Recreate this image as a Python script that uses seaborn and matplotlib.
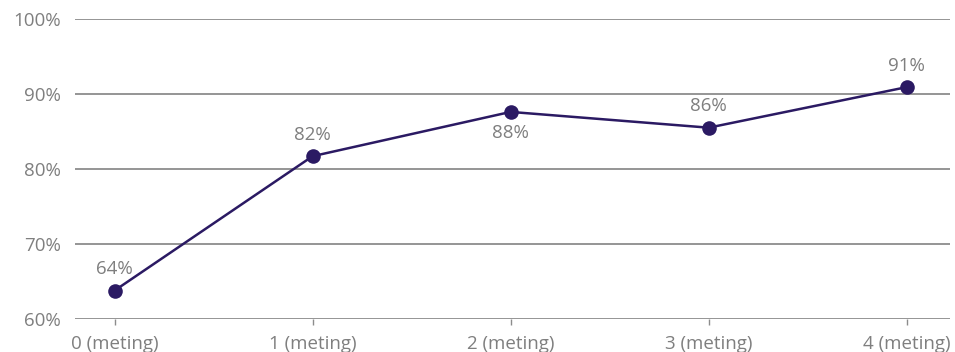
import matplotlib
matplotlib.use("Agg")
import matplotlib.pyplot as plt
import seaborn as sns
import pandas as pd
from matplotlib.ticker import FuncFormatter

# Share of positive scores per measurement round
metingen = ["0 (meting)", "1 (meting)", "2 (meting)", "3 (meting)", "4 (meting)"]
scores = [63.8, 81.7, 87.6, 85.5, 90.9]
label_pos = ["above", "above", "below", "above", "above"]
y_ticks = [60, 70, 80, 90, 100]

df = pd.DataFrame({"meting": metingen, "score": scores})

sns.set_theme(style="white")
plt.rcParams["font.family"] = ["Open Sans", "DejaVu Sans"]

line_color = "#2b1a63"
text_color = "#7f7f7f"
grid_color = "#8c8c8c"
fs = 13.5

fig = plt.figure(figsize=(9.55, 3.52), dpi=100)
ax = fig.add_axes([0.0785, 0.0935, 0.9165, 0.853])

for t in y_ticks:
    ax.axhline(t, color=grid_color, linewidth=1.3, zorder=1)

sns.lineplot(data=df, x="meting", y="score", sort=False, ax=ax,
             color=line_color, linewidth=1.8, marker="o", markersize=10.5,
             markeredgewidth=0, zorder=3)

for i, (v, pos) in enumerate(zip(scores, label_pos)):
    dy = 15.5 if pos == "above" else -15.5
    ax.annotate(f"{v:.0f}%", (i, v), xytext=(0, dy), textcoords="offset points",
                ha="center", va="center", fontsize=fs, color=text_color)

ax.set_ylim(60, 100)
ax.set_xlim(-0.2, 4.22)
ax.set_yticks(y_ticks)
ax.yaxis.set_major_formatter(FuncFormatter(lambda v, _: f"{v:.0f}%"))
ax.set_xlabel("")
ax.set_ylabel("")
for s in ax.spines.values():
    s.set_visible(False)
ax.tick_params(axis="x", length=4, width=1, color=grid_color,
               labelsize=fs, labelcolor=text_color, pad=7.5, bottom=True)
ax.tick_params(axis="y", length=0, labelsize=fs, labelcolor=text_color, pad=10)

fig.savefig("out.png", dpi=100)
